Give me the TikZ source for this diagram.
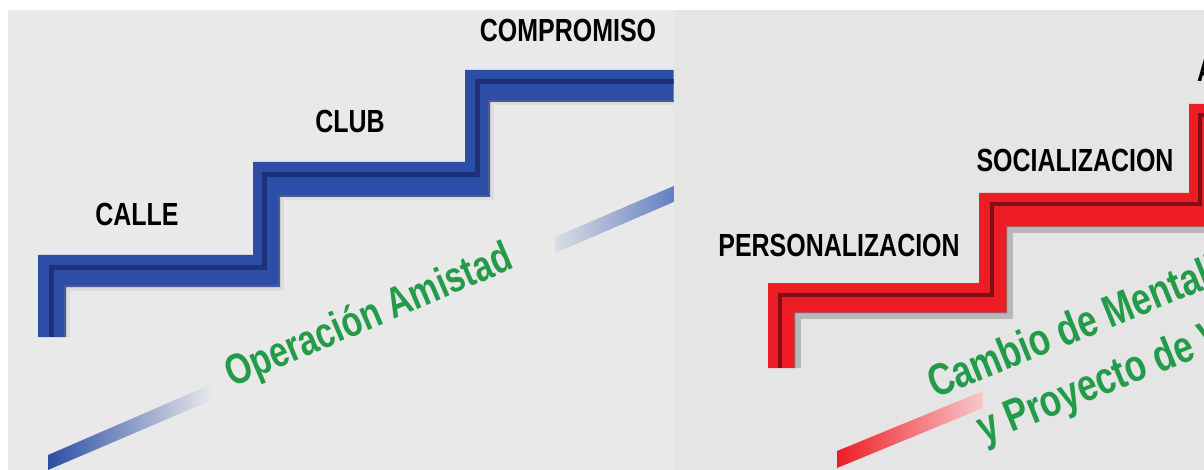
\documentclass[tikz,border=0pt]{standalone}
\usepackage{fontspec}
\usepackage{xcolor}
\usepackage{tikz}
\usetikzlibrary{calc}

\newfontfamily\condensada[FakeStretch=0.78]{Liberation Sans}

\definecolor{fondoA}{HTML}{E9E9E9}
\definecolor{fondoB}{HTML}{E5E5E5}
\definecolor{azul}{HTML}{2C4EA6}
\definecolor{azulosc}{HTML}{1E3078}
\definecolor{azulclaro}{HTML}{5472BC}
\definecolor{rojo}{HTML}{EE1D25}
\definecolor{rojoosc}{HTML}{7E0F14}
\definecolor{rosa}{HTML}{F8C8CB}
\definecolor{verde}{HTML}{239B48}

\tikzset{
    peldano/.style={font=\condensada\bfseries\fontsize{32}{36}\selectfont, text=black, inner sep=0pt, anchor=base},
    frase/.style={font=\condensada\bfseries\fontsize{45}{50}\selectfont, text=verde, inner sep=0pt, anchor=base west},
    sombra/.style={line width=8pt, gray, opacity=0.45, miter limit=20},
    filo/.style={line width=5pt, miter limit=20},
}

\begin{document}
\begin{tikzpicture}[x=1pt, y=-1pt]
        %FONDO
        \useasboundingbox (0,0) rectangle (1204,470);
        \fill[fondoA] (8,10) rectangle (673.5,470);
        \fill[fondoB] (673.5,10) rectangle (1204,470);

        %ESCALERA AZUL
        \begin{scope}
            \clip (8,10) rectangle (673.5,470);
            \draw[sombra, line width=5pt, opacity=0.12] (67,337) -- (67,288) -- (281,288) -- (281,198) -- (491,198) -- (491,103) -- (690,103);
            \fill[azul] (38,337) -- (38,255) -- (253,255) -- (253,162) -- (465,162) -- (465,70) -- (690,70)
                -- (690,102) -- (490,102) -- (490,197) -- (280,197) -- (280,287) -- (66,287) -- (66,337) -- cycle;
            \draw[filo, azulosc] (51,337) -- (51,268) -- (264,268) -- (264,175) -- (477,175) -- (477,82) -- (690,82);
            \draw[azulosc!80, line width=2pt] (65,337) -- (65,286) -- (279,286) -- (279,196) -- (489,196) -- (489,101) -- (690,101);
            %BARRA ARRIBA
            \shade[left color=azulclaro!10!fondoA, right color=azulclaro] (555,237) -- (690,179) -- (690,195) -- (555,253) -- cycle;
        \end{scope}

        %BARRA ABAJO
        \shade[left color=azul, right color=fondoA] (48,455) -- (212,384) -- (212,400) -- (48,470) -- cycle;

        %ESCALERA ROJA
        \draw[sombra] (797,368) -- (797,315) -- (1009,315) -- (1009,229) -- (1219,229) -- (1219,138) -- (1240,138);
        \fill[rojo] (768,368) -- (768,283) -- (979,283) -- (979,193) -- (1189,193) -- (1189,104) -- (1240,104)
            -- (1240,136) -- (1217,136) -- (1217,227) -- (1007,227) -- (1007,313) -- (795,313) -- (795,368) -- cycle;
        \draw[filo, rojoosc, line width=4pt] (780,368) -- (780,295) -- (992,295) -- (992,204) -- (1200,204) -- (1200,115) -- (1240,115);
        \draw[rojoosc!70, line width=1.5pt] (794.5,368) -- (794.5,312.5) -- (1006.5,312.5) -- (1006.5,226.5) -- (1216.5,226.5);

        %BARRA ROJA
        \shade[left color=rojo, right color=rosa] (837,451) -- (983,391) -- (983,408) -- (837,468) -- cycle;

        %ETIQUETAS
        \node[peldano] (calle) at (137,226) {CALLE};
        \node[peldano] (club) at (350,133) {CLUB};
        \node[peldano] (compromiso) at (568,42) {COMPROMISO};
        \node[peldano] (personal) at (839,257) {PERSONALIZACION};
        \node[peldano] (social) at (1075,172) {SOCIALIZACION};
        \node[peldano, anchor=base west] (tercero) at (1197,82) {A};

        %TEXTO VERDE
        \node[frase, rotate=23, font=\condensada\bfseries\fontsize{43}{50}\selectfont] (amistad) at (232,388) {Operación Amistad};
        \node[frase, rotate=22] (cambio) at (935,399) {Cambio de Mentali};
        \node[frase, rotate=22] (proyecto) at (984,444) {y Proyecto de V};
    \end{tikzpicture}
\end{document}
